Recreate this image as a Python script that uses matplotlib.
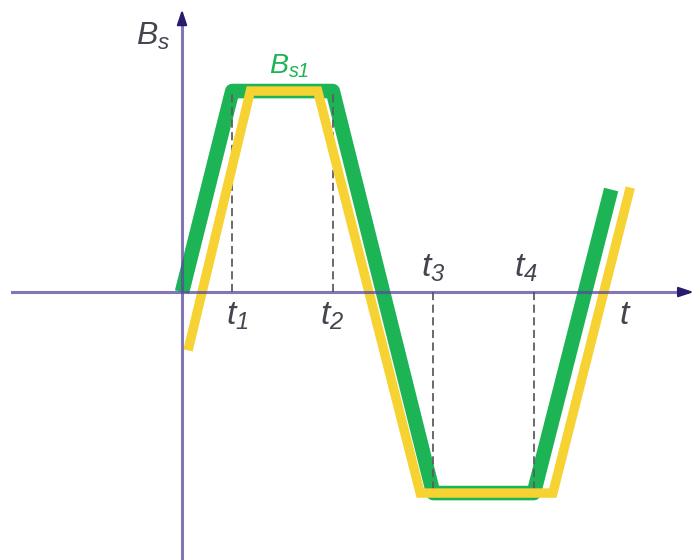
import matplotlib
matplotlib.use("Agg")
import matplotlib.pyplot as plt

plt.rcParams['mathtext.fontset'] = 'custom'
plt.rcParams['mathtext.it'] = 'Liberation Sans:italic'
plt.rcParams['mathtext.rm'] = 'Liberation Sans:italic'
plt.rcParams['font.family'] = ['Liberation Sans', 'DejaVu Sans']

# Data (t in units of the time ticks, B normalised to Bs1 = 1)
green_t = [0.0, 0.5, 1.5, 2.5, 3.5, 4.27]
green_b = [0.0, 1.0, 1.0, -1.0, -1.0, 0.51]
yellow_t = [0.06, 0.68, 1.35, 2.37, 3.69, 4.46]
yellow_b = [-0.29, 1.0, 1.0, -1.0, -1.0, 0.52]
tick_t = [0.5, 1.5, 2.5, 3.5]
tick_b = [1.0, 1.0, -1.0, -1.0]
tick_labels = ['$t_{1}$', '$t_{2}$', '$t_{3}$', '$t_{4}$']
label_dx = [0.05, -0.01, 0.0, -0.08]

fig = plt.figure(figsize=(6.99, 5.60), dpi=100)
ax = fig.add_axes([0, 0, 1, 1])
ax.set_xlim(-1.811, 5.144)
ax.set_ylim(-1.333, 1.453)
ax.axis('off')

GREEN = '#1cb454'
YELLOW = '#f6d232'
AXIS = '#5a48a0'
HEAD = '#2a1a6e'
TEXT = '#454550'

ax.plot(green_t, green_b, color=GREEN, lw=10.5, solid_joinstyle='round',
        solid_capstyle='butt', zorder=2)

for t, b in zip(tick_t, tick_b):
    ax.plot([t, t], [0, b], color='#5e5e5e', lw=1.3, ls=(0, (4.5, 2.5)), zorder=3)

ax.plot(yellow_t, yellow_b, color=YELLOW, lw=6.8, solid_joinstyle='miter',
        solid_capstyle='butt', zorder=4)

# axes
ax.plot([-1.69, 5.02], [0, 0], color=AXIS, lw=2.2, alpha=0.75, zorder=5)
ax.plot([0, 0], [-1.333, 1.36], color=AXIS, lw=2.2, alpha=0.75, zorder=5)
ax.annotate('', xy=(5.12, 0), xytext=(4.98, 0),
            arrowprops=dict(arrowstyle='-|>,head_length=0.9,head_width=0.3',
                            color=HEAD, lw=1.5), zorder=6)
ax.annotate('', xy=(0, 1.42), xytext=(0, 1.33),
            arrowprops=dict(arrowstyle='-|>,head_length=0.9,head_width=0.3',
                            color=HEAD, lw=1.5), zorder=6)

# labels
ax.text(-0.12, 1.274, '$B_{s}$', color=TEXT, fontsize=23, ha='right', va='center')
ax.text(1.065, 1.124, '$B_{s1}$', color=GREEN, fontsize=20.5, ha='center', va='center')
for t, lab, b, dx in zip(tick_t, tick_labels, tick_b, label_dx):
    y = -0.12 if b > 0 else 0.12
    ax.text(t + dx, y, lab, color=TEXT, fontsize=24.5, ha='center', va='center')
ax.text(4.41, -0.115, '$t$', color=TEXT, fontsize=24.5, ha='center', va='center')

fig.savefig('out.png', dpi=100)
